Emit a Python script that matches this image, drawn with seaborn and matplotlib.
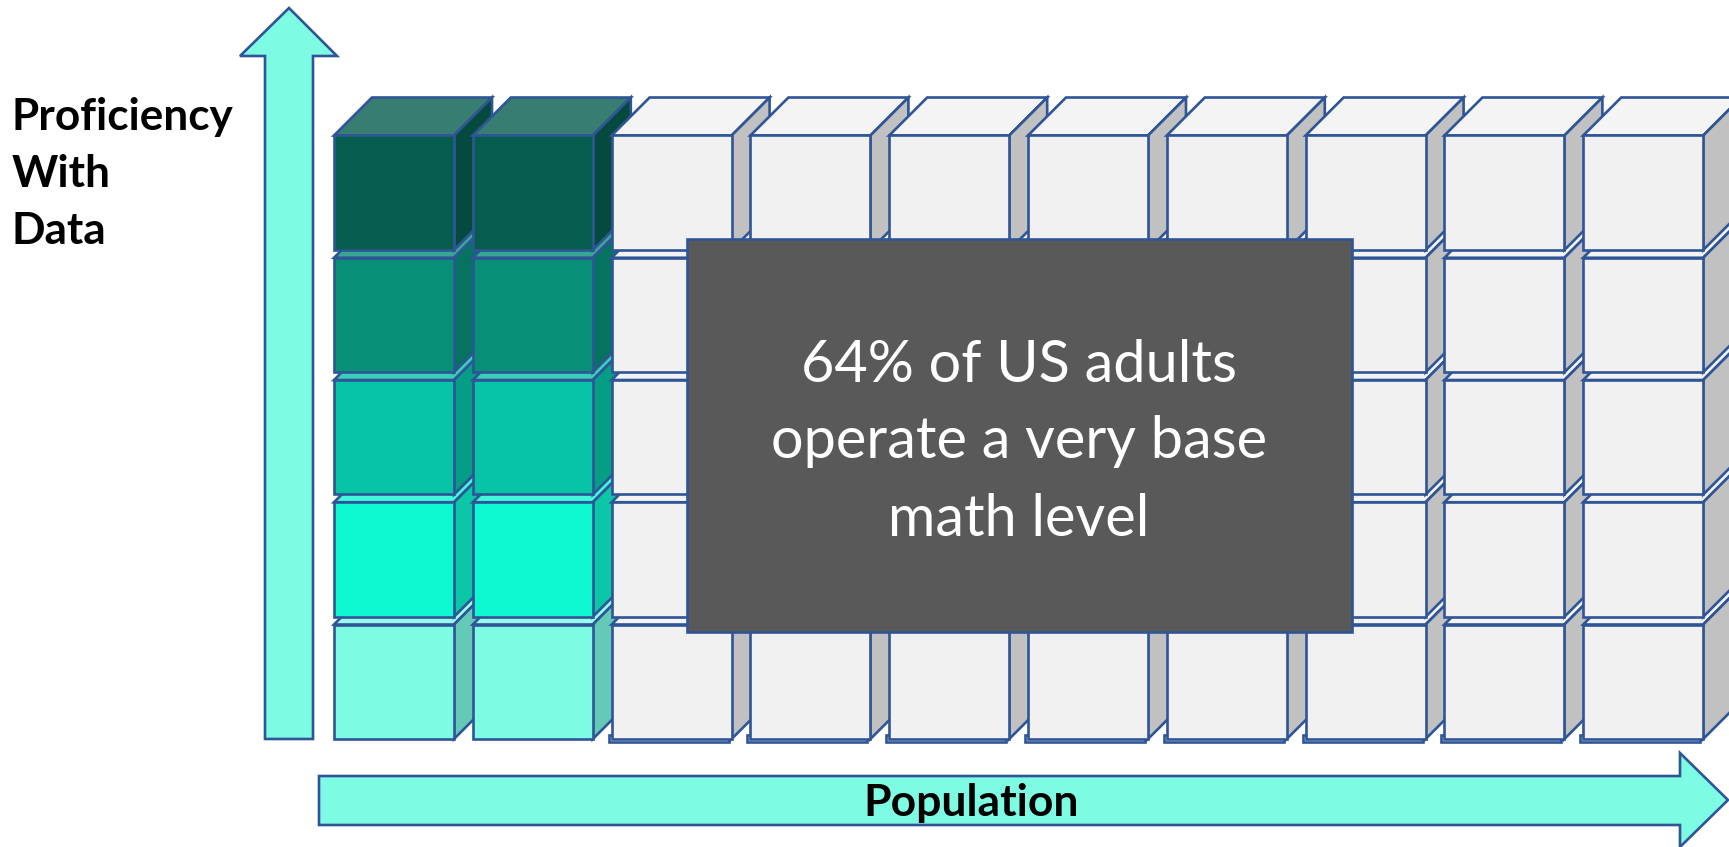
import pandas as pd
import matplotlib.pyplot as plt
import matplotlib.colors as mcolors
from matplotlib.patches import Rectangle
import seaborn as sns

# --- Data ---
columns = list(range(10))
levels = [0, 1, 2, 3, 4]
shaded_columns = [0, 1]
level_colors = ["#7DFBE3", "#0EF9D1", "#08C4A6", "#078F78", "#055D4D"]
blank_color = "#F1F1F1"
box_lines = ["64% of US adults", "operate a very base", "math level"]
y_lines = ["Proficiency", "With", "Data"]
x_label = "Population"

edge = "#2F5597"
arrow_fill = "#7DFBE3"
W, H = 1729, 847
pitch_x, pitch_y = 138.8, 122.25
depth = 38
lw = 1.9

sns.set_theme(style="white")
plt.rcParams["font.family"] = ["Lato", "DejaVu Sans"]

fig = plt.figure(figsize=(W / 100, H / 100), dpi=100)
ax = fig.add_axes([0, 0, 1, 1])

# one stacked layer of bars per proficiency level
for level in levels:
    df = pd.DataFrame({"column": columns, "height": 114.5 / pitch_y})
    df["shade"] = ["on" if c in shaded_columns else "off" for c in columns]
    before = len(ax.patches)
    sns.barplot(data=df, x="column", y="height", hue="shade", hue_order=["on", "off"],
                palette={"on": level_colors[level], "off": blank_color}, dodge=False,
                bottom=level, width=120 / pitch_x, saturation=1, errorbar=None,
                legend=False, ax=ax)
    for bar in ax.patches[before:]:
        if bar.get_height() == 0 or pd.isna(bar.get_height()):
            continue
        x0, y0 = bar.get_x(), bar.get_y()
        x1, y1 = x0 + bar.get_width(), y0 + bar.get_height()
        dx, dy = depth / pitch_x, depth / pitch_y
        face = mcolors.to_rgb(bar.get_facecolor())
        is_blank = mcolors.to_hex(face).upper() == blank_color
        side = tuple(c * 0.8 for c in face)
        top = "#F4F4F4" if is_blank else tuple(c * 0.8 + 0.2 for c in face)
        z = 2 + round(x0 + 0.5) * 10 + level
        bar.set(edgecolor=edge, linewidth=lw, zorder=z + 0.2)
        ax.fill([x0, x1, x1 + dx, x0 + dx], [y1, y1, y1 + dy, y1 + dy], facecolor=top,
                edgecolor=edge, linewidth=lw, zorder=z)
        ax.fill([x1, x1 + dx, x1 + dx, x1], [y0, y0 + dy, y1 + dy, y1], facecolor=side,
                edgecolor=edge, linewidth=lw, zorder=z)
        # blank columns have a second copy peeking out under the bottom cube
        if is_blank and level == 0:
            ax.add_patch(Rectangle((x0 - 3 / pitch_x, y0 - 3 / pitch_y), x1 - x0, 0.06,
                                   facecolor="white", edgecolor=edge, linewidth=lw,
                                   zorder=z - 0.5))

ax.set_xlim(-394 / pitch_x, (W - 394) / pitch_x)
ax.set_ylim(-(H - 739) / pitch_y, 739 / pitch_y)
ax.axis("off")

# overlay in pixel units for the arrows, box and labels
over = fig.add_axes([0, 0, 1, 1], zorder=10)
over.set_xlim(0, W)
over.set_ylim(H, 0)
over.axis("off")

over.fill([265, 265, 240, 289, 337, 313, 313], [739, 56, 56, 8, 56, 56, 739],
          facecolor=arrow_fill, edgecolor=edge, linewidth=lw)
over.fill([319, 1680, 1680, 1728, 1680, 1680, 319], [776, 776, 753, 800, 847, 825, 825],
          facecolor=arrow_fill, edgecolor=edge, linewidth=lw, clip_on=False)
over.fill([687, 1352, 1352, 687], [239, 239, 632, 632], facecolor="#595959",
          edgecolor=edge, linewidth=lw)

for line, y in zip(box_lines, [366, 442, 519]):
    over.text(1019, y, line, color="white", fontsize=41.5, ha="center", va="center")
for line, y in zip(y_lines, [117, 174, 231]):
    over.text(12, y, line, color="black", fontsize=31.8, fontweight="bold", ha="left", va="center")
over.text(971, 803, x_label, color="black", fontsize=32, fontweight="bold", ha="center", va="center")

fig.savefig("out.png", dpi=100)
